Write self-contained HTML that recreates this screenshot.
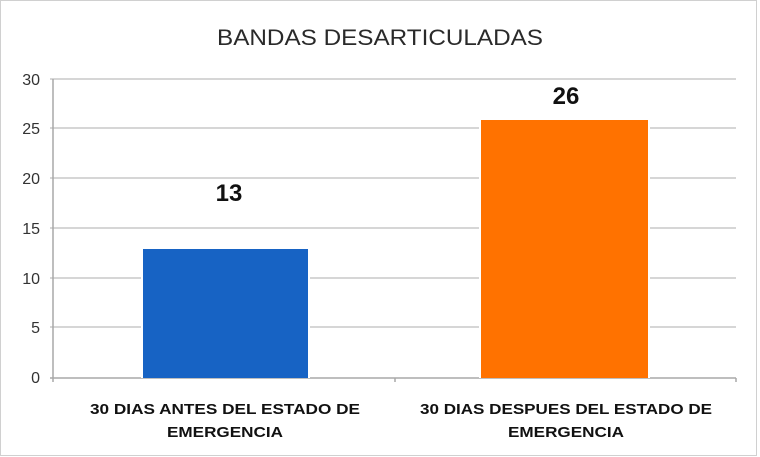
<!DOCTYPE html>
<html><head><meta charset="utf-8"><style>
html,body{margin:0;padding:0;background:#fff;}
svg{display:block;font-family:"Liberation Sans",Arial,sans-serif;}
</style></head><body>
<svg width="760" height="457" viewBox="0 0 760 457">
<rect x="0.5" y="0.5" width="756" height="455" fill="#fff" stroke="#d0d0d0"/>
<text x="380" y="45" text-anchor="middle" font-size="22" fill="#2a2a2a" textLength="326" lengthAdjust="spacingAndGlyphs">BANDAS DESARTICULADAS</text>
<g stroke="#c8c8c8" stroke-width="1.5">
<line x1="50" y1="79" x2="736" y2="79"/>
<line x1="50" y1="128" x2="736" y2="128"/>
<line x1="50" y1="178" x2="736" y2="178"/>
<line x1="50" y1="228" x2="736" y2="228"/>
<line x1="50" y1="278" x2="736" y2="278"/>
<line x1="50" y1="327" x2="736" y2="327"/>
</g>
<g stroke="#a8a8a8" stroke-width="1.5">
<line x1="53" y1="79" x2="53" y2="378"/>
<line x1="50" y1="378" x2="736" y2="378"/>
<line x1="395" y1="378" x2="395" y2="382"/>
<line x1="736" y1="378" x2="736" y2="382"/>
<line x1="53" y1="378" x2="53" y2="382"/>
</g>
<g font-size="16" fill="#333" text-anchor="end">
<text x="40" y="85">30</text><text x="40" y="134">25</text><text x="40" y="184">20</text>
<text x="40" y="234">15</text><text x="40" y="284">10</text><text x="40" y="333">5</text><text x="40" y="383">0</text>
</g>
<rect x="141" y="247" width="169" height="131" fill="#fff"/>
<rect x="143" y="249" width="165" height="129" fill="#1763c4"/>
<rect x="479" y="118" width="171" height="260" fill="#fff"/>
<rect x="481" y="120" width="167" height="258" fill="#ff7200"/>
<text x="229" y="201" text-anchor="middle" font-size="24" font-weight="bold" fill="#111">13</text>
<text x="566" y="104" text-anchor="middle" font-size="24" font-weight="bold" fill="#111">26</text>
<g font-size="15" font-weight="bold" fill="#111" text-anchor="middle">
<text x="225" y="414" textLength="270" lengthAdjust="spacingAndGlyphs">30 DIAS ANTES DEL ESTADO DE</text>
<text x="225" y="437" textLength="116" lengthAdjust="spacingAndGlyphs">EMERGENCIA</text>
<text x="566" y="414" textLength="292" lengthAdjust="spacingAndGlyphs">30 DIAS DESPUES DEL ESTADO DE</text>
<text x="566" y="437" textLength="116" lengthAdjust="spacingAndGlyphs">EMERGENCIA</text>
</g>
</svg>
</body></html>
